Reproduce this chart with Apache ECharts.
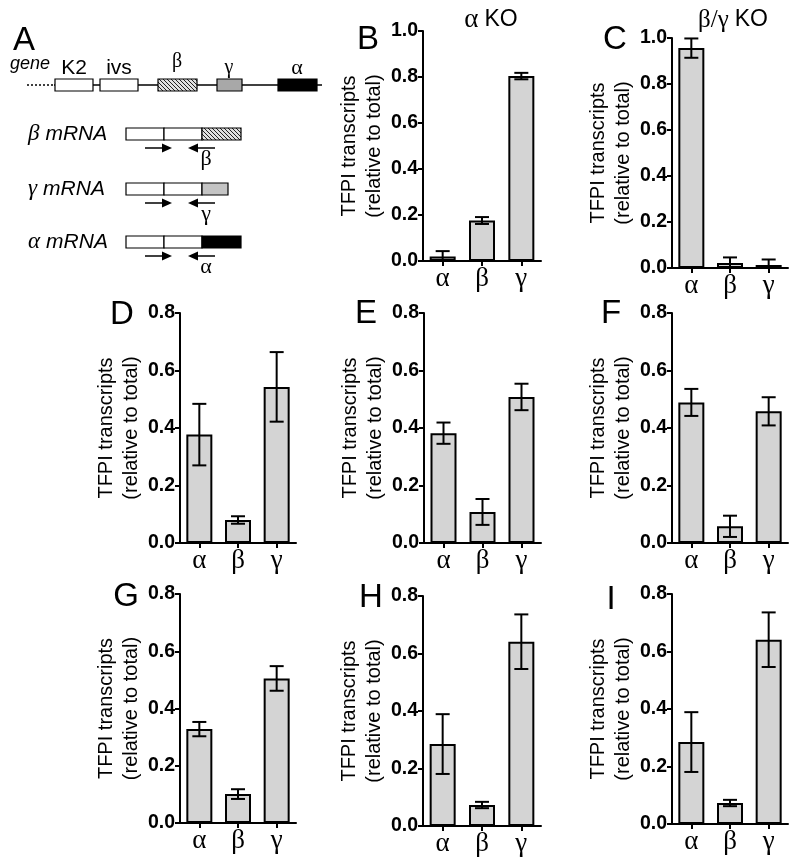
<!DOCTYPE html>
<html><head><meta charset="utf-8">
<script src="https://cdn.jsdelivr.net/npm/echarts@6/dist/echarts.min.js"></script>
<style>html,body{margin:0;padding:0;background:#fff}#c{width:800px;height:864px}</style>
</head><body><div id="c"></div>
<script>
// ---- data ----
const categories = ['α', 'β', 'γ'];
const meanB = [0.020, 0.176, 0.804]; const errB = [0.023, 0.015, 0.014];
const meanC = [0.956, 0.022, 0.013]; const errC = [0.042, 0.024, 0.024];
const meanD = [0.377, 0.080, 0.543]; const errD = [0.107, 0.013, 0.121];
const meanE = [0.382, 0.108, 0.508]; const errE = [0.037, 0.045, 0.046];
const meanF = [0.489, 0.058, 0.458]; const errF = [0.047, 0.037, 0.049];
const meanG = [0.328, 0.101, 0.505]; const errG = [0.025, 0.017, 0.043];
const meanH = [0.285, 0.073, 0.641]; const errH = [0.104, 0.011, 0.095];
const meanI = [0.285, 0.073, 0.641]; const errI = [0.104, 0.011, 0.095];
const yMaxKO = 1.0;
const yMaxOther = 0.8;
const yInterval = 0.2;
const yTitle = 'TFPI transcripts\n(relative to total)';

// ---- layout ----
const panels = [
  {mean: meanB, err: errB, max: yMaxKO,    left: 423, top: 31,  width: 118, height: 230},
  {mean: meanC, err: errC, max: yMaxKO,    left: 672, top: 38,  width: 116, height: 230},
  {mean: meanD, err: errD, max: yMaxOther, left: 180, top: 313, width: 116, height: 230},
  {mean: meanE, err: errE, max: yMaxOther, left: 424, top: 313, width: 117, height: 230},
  {mean: meanF, err: errF, max: yMaxOther, left: 672, top: 313, width: 116, height: 230},
  {mean: meanG, err: errG, max: yMaxOther, left: 180, top: 594, width: 116, height: 229},
  {mean: meanH, err: errH, max: yMaxOther, left: 423, top: 596, width: 118, height: 230},
  {mean: meanI, err: errI, max: yMaxOther, left: 672, top: 594, width: 116, height: 230}
];

const SANS = '"Liberation Sans", Arial, sans-serif';
const SERIF = '"Liberation Serif", "Times New Roman", serif';

const grid = [], xAxis = [], yAxis = [], series = [];
panels.forEach((p, i) => {
  grid.push({left: p.left, top: p.top, width: p.width, height: p.height, containLabel: false});
  xAxis.push({
    gridIndex: i, type: 'category', data: categories, boundaryGap: true,
    axisLine: {show: true, lineStyle: {color: '#000', width: 2}},
    axisTick: {show: true, alignWithLabel: true, length: 5, lineStyle: {color: '#000', width: 2}},
    axisLabel: {color: '#000', fontFamily: SERIF, fontSize: 27, margin: 4},
    splitLine: {show: false}
  });
  yAxis.push({
    gridIndex: i, type: 'value', min: 0, max: p.max, interval: yInterval,
    axisLine: {show: true, lineStyle: {color: '#000', width: 2}},
    axisTick: {show: true, length: 5, lineStyle: {color: '#000', width: 2}},
    axisLabel: {color: '#000', fontFamily: SANS, fontWeight: 'bold', fontSize: 19.5, margin: 5,
      formatter: v => v.toFixed(1)},
    splitLine: {show: false},
    name: yTitle, nameLocation: 'middle', nameRotate: 90, nameGap: 33,
    nameTextStyle: {color: '#000', fontFamily: SANS, fontSize: 20, lineHeight: 25}
  });
  series.push({
    type: 'bar', xAxisIndex: i, yAxisIndex: i, data: p.mean, barWidth: 26,
    itemStyle: {color: '#d4d4d4', borderColor: '#000', borderWidth: 2},
    silent: true, animation: false, z: 2
  });
  series.push({
    type: 'custom', xAxisIndex: i, yAxisIndex: i, animation: false, silent: true, z: 3,
    data: p.mean.map((m, k) => [k, m, p.err[k]]),
    encode: {x: 0, y: 1},
    renderItem: function (params, api) {
      const x = api.value(0), m = api.value(1), e = api.value(2);
      const t = api.coord([x, m + e]);
      const b = api.coord([x, Math.max(m - e, 0)]);
      const cw = 7;
      const st = {stroke: '#000', lineWidth: 2};
      return {type: 'group', children: [
        {type: 'line', shape: {x1: t[0], y1: t[1], x2: b[0], y2: b[1]}, style: st},
        {type: 'line', shape: {x1: t[0] - cw, y1: t[1], x2: t[0] + cw, y2: t[1]}, style: st},
        {type: 'line', shape: {x1: b[0] - cw, y1: b[1], x2: b[0] + cw, y2: b[1]}, style: st}
      ]};
    }
  });
});

// hatch pattern for beta exon
const hc = document.createElement('canvas');
hc.width = 4; hc.height = 4;
const hx = hc.getContext('2d');
hx.fillStyle = '#e0e0e0'; hx.fillRect(0, 0, 4, 4);
hx.fillStyle = '#222';
for (let k = 0; k < 4; k++) { hx.fillRect(k, k, 1, 1); }
const hatch = {image: hc, repeat: 'repeat'};

const G = [];
function txt(x, y, text, size, opts) {
  G.push({type: 'text', x: x, y: y, silent: true, style: Object.assign({
    text: text, fontSize: size, fontFamily: SANS, fill: '#000', align: 'center', verticalAlign: 'middle'
  }, opts || {})});
}
function rect(x, y, w, h, fill) {
  G.push({type: 'rect', silent: true, shape: {x: x, y: y, width: w, height: h},
    style: {fill: fill, stroke: '#000', lineWidth: 1.2}});
}
function line(x1, y1, x2, y2, w, dash) {
  G.push({type: 'line', silent: true, shape: {x1: x1, y1: y1, x2: x2, y2: y2},
    style: {stroke: '#000', lineWidth: w || 1.5, lineDash: dash || null}});
}
function arrow(x1, x2, y) {
  const dir = x2 > x1 ? 1 : -1;
  line(x1, y, x2 - dir * 6, y, 1.5);
  G.push({type: 'polygon', silent: true, shape: {points: [[x2, y], [x2 - dir * 10, y - 4.5], [x2 - dir * 10, y + 4.5]]},
    style: {fill: '#000'}});
}

// panel letters
[['A', 24, 41], ['B', 368, 40], ['C', 615, 40], ['D', 122, 315], ['E', 366, 314], ['F', 611, 314],
 ['G', 126, 597], ['H', 371, 598], ['I', 611, 600]].forEach(l => txt(l[1], l[2], l[0], 33));

// KO titles
G.push({type: 'text', x: 491, y: 20, silent: true, style: {
  text: '{g|α}{t|KO}', align: 'center', verticalAlign: 'middle',
  rich: {g: {fontFamily: SERIF, fontSize: 27, fill: '#000', padding: [0, 6, 0, 0]},
         t: {fontFamily: SANS, fontSize: 23, fill: '#000'}}}});
G.push({type: 'text', x: 733, y: 20, silent: true, style: {
  text: '{g|β/γ}{t|KO}', align: 'center', verticalAlign: 'middle',
  rich: {g: {fontFamily: SERIF, fontSize: 25, fill: '#000', padding: [0, 6, 0, 0]},
         t: {fontFamily: SANS, fontSize: 23, fill: '#000'}}}});

// panel A gene diagram
txt(10, 64, 'gene', 18, {align: 'left', fontStyle: 'italic'});
line(27, 85, 54, 85, 1.5, [2, 2]);
line(54, 85, 322, 85, 1.5);
rect(55, 79, 38, 12, '#fff');
rect(100, 79, 38, 12, '#fff');
rect(158, 79, 39, 12, hatch);
rect(217, 79, 25, 12, '#a8a8a8');
rect(278, 79, 39, 12, '#000');
txt(74, 68, 'K2', 21);
txt(119, 68, 'ivs', 21);
txt(177, 62, 'β', 20, {fontFamily: SERIF});
txt(229, 68, 'γ', 20, {fontFamily: SERIF});
txt(297, 68, 'α', 22, {fontFamily: SERIF});

// mRNAs
const rows = [
  {g: 'β', y: 128, end: 241, fill: hatch, ay: 148},
  {g: 'γ', y: 183, end: 228, fill: '#c4c4c4', ay: 203},
  {g: 'α', y: 236, end: 241, fill: '#000', ay: 256}
];
rows.forEach(r => {
  G.push({type: 'text', x: 28, y: r.y + 6, silent: true, style: {
    text: '{g|' + r.g + '}{t|mRNA}', align: 'left', verticalAlign: 'middle',
    rich: {g: {fontFamily: SERIF, fontStyle: 'italic', fontSize: 23, fill: '#000', padding: [0, 6, 0, 0]},
           t: {fontFamily: SANS, fontStyle: 'italic', fontSize: 21, fill: '#000'}}}});
  rect(126, r.y, 38, 12, '#fff');
  rect(164, r.y, 38, 12, '#fff');
  rect(202, r.y, r.end - 202, 12, r.fill);
  arrow(145, 172, r.ay);
  arrow(215, 188, r.ay);
  txt(206, r.ay + 11, r.g, 22, {fontFamily: SERIF});
});

const chart = echarts.init(document.getElementById('c'), null, {renderer: 'canvas'});
chart.setOption({
  animation: false,
  backgroundColor: '#fff',
  grid: grid, xAxis: xAxis, yAxis: yAxis, series: series,
  graphic: {elements: G}
});
</script></body></html>
